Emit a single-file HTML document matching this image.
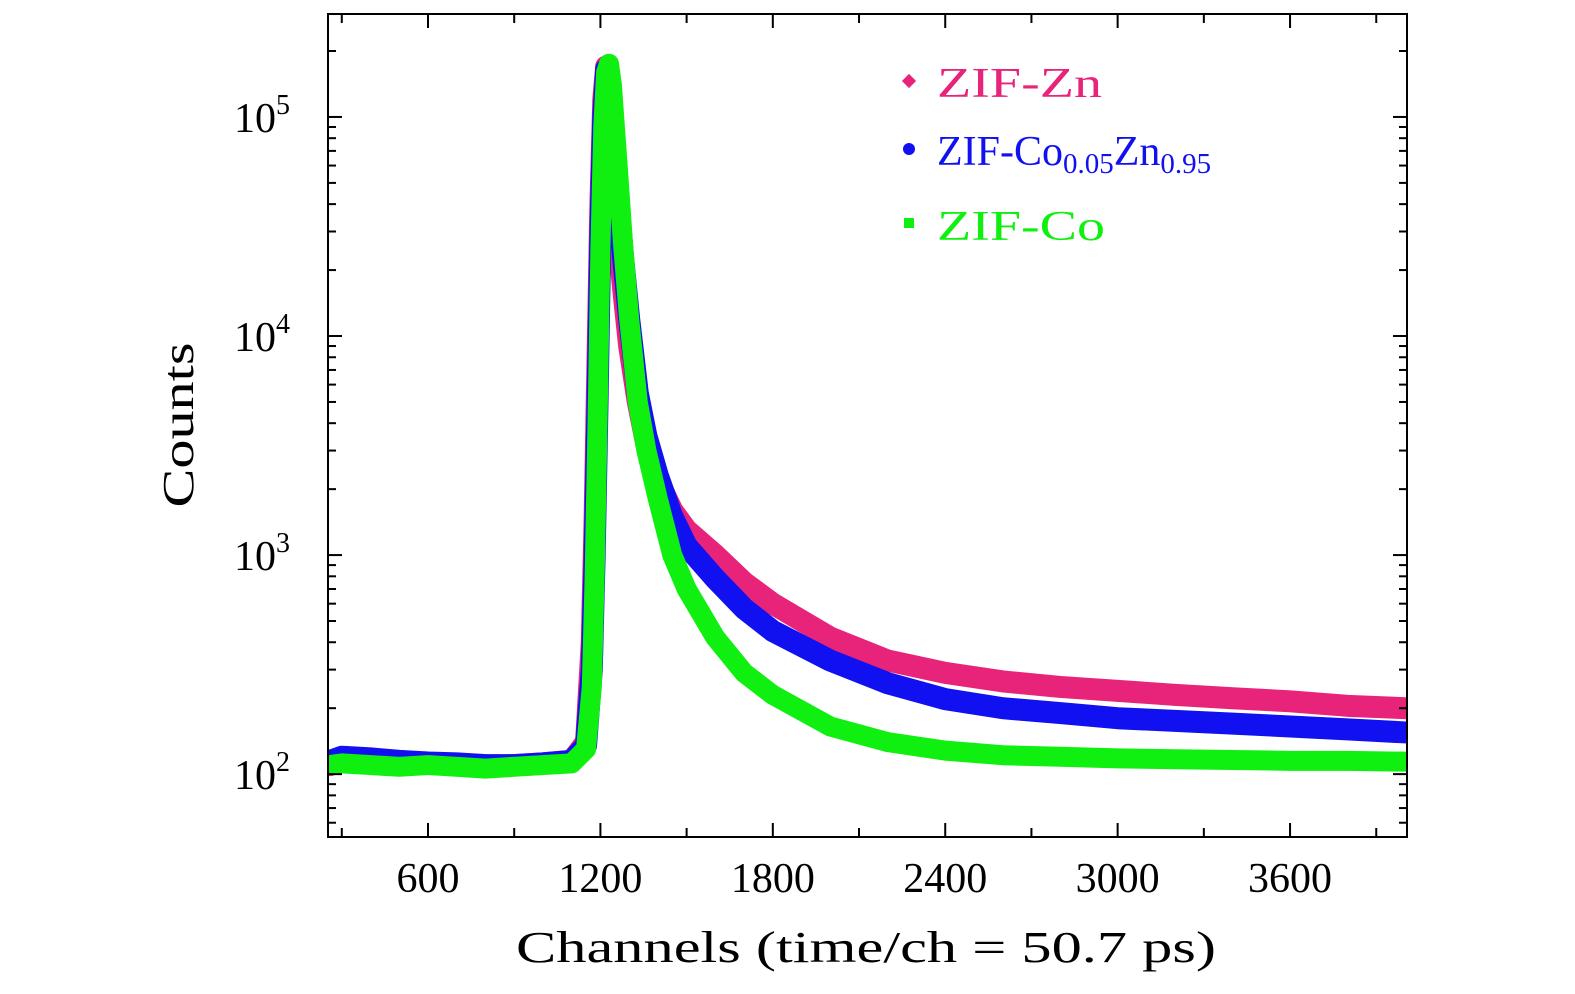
<!DOCTYPE html>
<html><head><meta charset="utf-8"><style>
body{margin:0;background:#fff;width:1575px;height:994px;overflow:hidden}
text{font-family:"Liberation Serif",serif;fill:#000}
</style></head><body>
<svg id="c" width="1575" height="994" style="position:absolute;left:0;top:0"><defs><clipPath id="cp"><rect x="328" y="14" width="1079" height="823"/></clipPath></defs></svg>
<script>
const channels=[260,300,400,500,600,700,800,900,1000,1100,1150,1170,1180,1190,1200,1210,1220,1230,1240,1260,1280,1300,1330,1360,1400,1450,1500,1600,1700,1800,2000,2200,2400,2600,2800,3000,3200,3400,3600,3800,4000];
const znValues=[110,115,112,110,112,110,108,110,112,115,140,400,1500,8000,40000,120000,170000,120000,70000,30000,16000,9000,5000,3200,2200,1600,1300,1000,750,600,420,330,290,265,250,240,230,222,215,205,200];
const coValues05=[115,120,118,115,113,112,110,110,112,115,135,300,1000,5000,30000,100000,165000,150000,100000,45000,22000,12000,5500,3500,2300,1500,1100,780,570,450,330,260,220,200,190,180,175,170,165,160,155];
const coValues=[110,112,110,108,110,108,106,108,110,112,130,250,800,4000,25000,90000,160000,175000,140000,60000,25000,12000,5000,3000,1800,1000,700,420,290,230,165,140,128,122,120,118,117,116,115,115,114];
const xTicks=[600,1200,1800,2400,3000,3600];
const yExps=[2,3,4,5];
const svg=document.getElementById('c');const NS='http://www.w3.org/2000/svg';
const L=328,R=1407,T=14,B=837;
const X=c=>L+(c-252)/(4007-252)*(R-L);
const Y=v=>B-(Math.log10(v)-1.713)/(5.47-1.713)*(B-T);
function mk(tag,attrs,parent){const e=document.createElementNS(NS,tag);for(const k in attrs)e.setAttribute(k,attrs[k]);(parent||svg).appendChild(e);return e;}
const series=[[znValues,'#e8247a','diamond'],[coValues05,'#1010f0','circle'],[coValues,'#10f010','square']];
const names=['series-zif-zn','series-zif-co005zn095','series-zif-co'];
series.forEach((s,i)=>{const g=mk('g',{'clip-path':'url(#cp)'});


const pts=channels.map((c,j)=>X(c)+','+Y(s[0][j])).join(' ');
mk('polyline',{points:pts,fill:'none',stroke:s[1],'stroke-width':i==2?20:22,'stroke-linejoin':'round','stroke-linecap':'round'},g);
channels.forEach((c,j)=>{const x=X(c),y=Y(s[0][j]);
let m;
if(s[2]=='diamond')m=mk('rect',{x:x-5,y:y-5,width:10,height:10,fill:s[1],transform:`rotate(45 ${x} ${y})`},g);
else if(s[2]=='circle')m=mk('circle',{cx:x,cy:y,r:6,fill:s[1]},g);
else m=mk('rect',{x:x-5,y:y-5,width:10,height:10,fill:s[1]},g);

});});
const f=mk('rect',{x:L,y:T,width:R-L,height:B-T,fill:'none',stroke:'#000','stroke-width':2});


for(let c=300;c<=3900;c+=300){const x=X(c),len=c%600==0?14:9;
mk('line',{x1:x,x2:x,y1:B,y2:B-len,stroke:'#000','stroke-width':2});
mk('line',{x1:x,x2:x,y1:T,y2:T+len,stroke:'#000','stroke-width':2});}
xTicks.forEach(c=>{const t=mk('text',{x:X(c),y:892,'font-size':42,'text-anchor':'middle'});t.textContent=c;

});
for(let e=1;e<=5;e++)for(let m=1;m<10;m++){const v=m*Math.pow(10,e);if(v<52||v>295000)continue;const y=Y(v),len=m==1?14:8;
mk('line',{x1:L,x2:L+len,y1:y,y2:y,stroke:'#000','stroke-width':2});
mk('line',{x1:R,x2:R-len,y1:y,y2:y,stroke:'#000','stroke-width':2});}
yExps.forEach(e=>{const t=mk('text',{x:290,y:Y(Math.pow(10,e))+15,'font-size':42,'text-anchor':'end'});
t.innerHTML='10<tspan dy="-18" font-size="28">'+e+'</tspan>';

});
</script>
<svg width="1575" height="994" style="position:absolute;left:0;top:0">
<text x="866" y="962" font-size="44" text-anchor="middle" textLength="700" lengthAdjust="spacingAndGlyphs">Channels (time/ch = 50.7 ps)</text>
<text transform="translate(193 425) rotate(-90)" font-size="44" text-anchor="middle" textLength="165" lengthAdjust="spacingAndGlyphs">Counts</text>
<g>
<rect x="904" y="76" width="10" height="10" fill="#e8247a" transform="rotate(45 909 81)"/>
<text x="937" y="97" font-size="42" textLength="165" lengthAdjust="spacingAndGlyphs" style="fill:#e8247a">ZIF-Zn</text>
<circle cx="909" cy="149" r="6" fill="#1010f0"/>
<text x="937" y="165" font-size="42" style="fill:#1010f0">ZIF-Co<tspan dy="8" font-size="29">0.05</tspan><tspan dy="-8">Zn</tspan><tspan dy="8" font-size="29">0.95</tspan></text>
<rect x="904" y="218" width="10" height="10" fill="#10f010"/>
<text x="937" y="240" font-size="42" textLength="168" lengthAdjust="spacingAndGlyphs" style="fill:#10f010">ZIF-Co</text>
</g>
</svg>
</body></html>
